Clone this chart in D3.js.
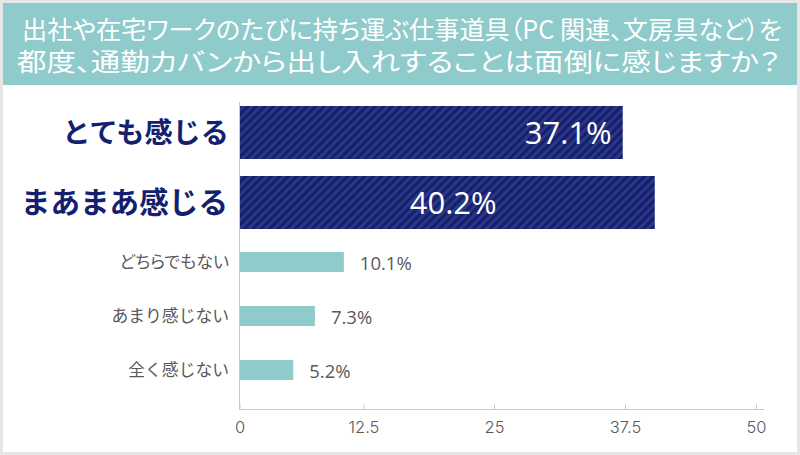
<!DOCTYPE html>
<html>
<head>
  <meta charset="utf-8">
  <title>仕事道具アンケート</title>
  <style>
    html, body { margin: 0; padding: 0; background: #fff; }
    svg { display: block; }
    .palt { font-feature-settings: "palt"; }
  </style>
</head>
<body>
<script src="https://d3js.org/d3.v7.min.js"></script>
<script>
var categories = ["とても感じる", "まあまあ感じる", "どちらでもない", "あまり感じない", "全く感じない"];
var values = [37.1, 40.2, 10.1, 7.3, 5.2];
var emphasised = ["とても感じる", "まあまあ感じる"];
var tickValues = [0, 12.5, 25, 37.5, 50];
var titleLines = ["出社や在宅ワークのたびに持ち運ぶ仕事道具（PC 関連、文房具など）を",
                  "都度、通勤カバンから出し入れすることは面倒に感じますか？"];

var w = 800;
var h = 455;
var jp = "'Noto Sans CJK JP', sans-serif";
var num = "'Open Sans', 'Noto Sans', sans-serif";

var svg = d3.select("body").append("svg")
  .attr("width", w)
  .attr("height", h);

// frame and header
svg.append("rect").attr("width", w).attr("height", h).attr("fill", "#e6e6e6");
svg.append("rect").attr("x", 3).attr("y", 3).attr("width", 794).attr("height", 449).attr("fill", "#fff");
svg.append("rect").attr("x", 3).attr("y", 3).attr("width", 794).attr("height", 82).attr("fill", "#8fcbcb");

svg.selectAll("text.title")
  .data(titleLines)
  .enter()
  .append("text")
  .attr("class", "title palt")
  .attr("x", function (d, i) { return i == 0 ? 22 : 17; })
  .attr("y", function (d, i) { return i == 0 ? 39 : 71; })
  .attr("textLength", function (d, i) { return i == 0 ? 760 : 763; })
  .attr("lengthAdjust", "spacingAndGlyphs")
  .attr("font-family", jp)
  .attr("font-size", "25px")
  .attr("fill", "#fff")
  .text(function (d) { return d; });

// striped fill for the two big bars
var pattern = svg.append("defs").append("pattern")
  .attr("id", "stripes")
  .attr("patternUnits", "userSpaceOnUse")
  .attr("width", 6)
  .attr("height", 6)
  .attr("patternTransform", "rotate(45)");
pattern.append("rect").attr("width", 6).attr("height", 6).attr("fill", "#141f70");
pattern.append("rect").attr("width", 3).attr("height", 6).attr("fill", "#2c3783");

var x = d3.scaleLinear().domain([0, 50]).range([239.5, 756]);
// the original's tick marks are a bit uneven, so the axis gets its own scale
var xAxisScale = d3.scaleLinear().domain(tickValues).range([239.5, 363.5, 494, 625, 756]);
// rows are not evenly spaced in the original
var y = d3.scaleOrdinal().domain(categories).range([132.5, 202.5, 262, 316, 370]);

function isBig(c) { return emphasised.indexOf(c) >= 0; }
function barH(c) { return isBig(c) ? 53 : 20; }

var data = categories.map(function (c, i) { return { cat: c, val: values[i] }; });

svg.selectAll("rect.bar")
  .data(data)
  .enter()
  .append("rect")
  .attr("class", "bar")
  .attr("x", x(0))
  .attr("y", function (d) { return y(d.cat) - barH(d.cat) / 2; })
  .attr("width", function (d) { return x(d.val) - x(0); })
  .attr("height", function (d) { return barH(d.cat); })
  .attr("fill", function (d) { return isBig(d.cat) ? "url(#stripes)" : "#8fcbcb"; });

// axis
var axis = svg.append("g")
  .attr("transform", "translate(0,409.5)")
  .call(d3.axisBottom(xAxisScale).tickValues(tickValues).tickSize(0).tickPadding(12)
    .tickFormat(function (d) { return String(d); }));
axis.select(".domain").remove();
axis.selectAll(".tick line")
  .attr("y1", -5)
  .attr("y2", 0)
  .attr("stroke", "#c8c8c8");
axis.selectAll("text")
  .attr("font-family", "Inter, sans-serif")
  .attr("font-weight", 300)
  .attr("font-size", "16.5px")
  .attr("fill", "#595959");
axis.append("line").attr("x1", x(0)).attr("x2", 764).attr("stroke", "#c8c8c8");
svg.append("line")
  .attr("x1", x(0)).attr("x2", x(0))
  .attr("y1", 102).attr("y2", 409.5)
  .attr("stroke", "#c8c8c8");

// category labels
svg.selectAll("text.cat")
  .data(data)
  .enter()
  .append("text")
  .attr("class", function (d) { return d.cat == "どちらでもない" ? "cat palt" : "cat"; })
  .attr("x", function (d) { return d.cat == "まあまあ感じる" ? 228 : 229; })
  .attr("y", function (d) { return y(d.cat); })
  .attr("dy", "0.36em")
  .attr("text-anchor", "end")
  .attr("font-family", jp)
  .attr("font-size", function (d) {
    if (d.cat == "とても感じる") return "28.2px";
    if (d.cat == "まあまあ感じる") return "29.6px";
    return d.cat == "どちらでもない" ? "17px" : "16.8px";
  })
  .attr("font-weight", function (d) { return isBig(d.cat) ? 700 : 400; })
  .attr("fill", function (d) { return isBig(d.cat) ? "#141f70" : "#595959"; })
  .text(function (d) { return d.cat; });

// value labels
svg.selectAll("text.val")
  .data(data)
  .enter()
  .append("text")
  .attr("class", "val")
  .attr("x", function (d) { return isBig(d.cat) ? x(d.val) - (d.val > 40 ? 245 : 11) : x(d.val) + 16; })
  .attr("y", function (d) { return y(d.cat) + (isBig(d.cat) ? 0 : 1.5); })
  .attr("dy", "0.36em")
  .attr("text-anchor", function (d) { return isBig(d.cat) && d.val < 40 ? "end" : "start"; })
  .attr("font-family", num)
  .attr("font-size", function (d) { return isBig(d.cat) ? "31px" : "18.5px"; })
  .attr("fill", function (d) { return isBig(d.cat) ? "#fff" : "#595959"; })
  .text(function (d) { return d.val.toFixed(1) + "%"; });
</script>
</body>
</html>
